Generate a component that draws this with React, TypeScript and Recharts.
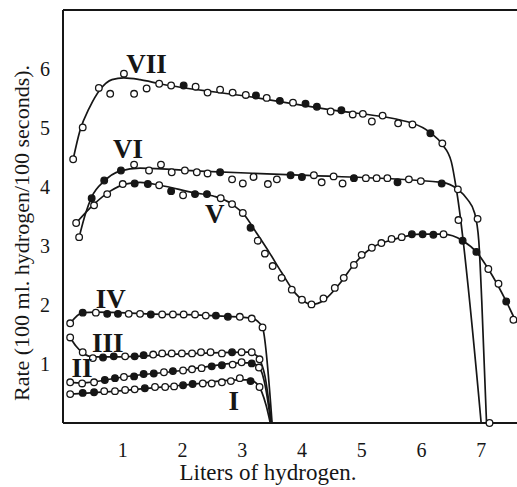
import { ComposedChart, Line, Scatter, XAxis, YAxis, ReferenceLine, ReferenceDot } from "recharts";

// [x, y] points along each hand-drawn curve
type XY = [number, number];
// [x, y, filled] measured points
type Pt = [number, number, number];

const X_TICKS = [1, 2, 3, 4, 5, 6, 7];
const Y_TICKS = [1, 2, 3, 4, 5, 6];
const X_TITLE = "Liters of hydrogen.";
const Y_TITLE = "Rate (100 ml. hydrogen/100 seconds).";

const VII_CURVE: XY[] = [
  [0.17, 4.47], [0.28, 4.94], [0.45, 5.36], [0.62, 5.65], [0.82, 5.82], [1.02, 5.85], [1.29, 5.82],
  [1.62, 5.75], [3.13, 5.53], [4.46, 5.31], [5.85, 5.08], [6.15, 4.92], [6.35, 4.72], [6.5, 4.43],
  [6.59, 3.93], [7.0, 0],
];
const VII_POINTS: Pt[] = [
  [0.17, 4.47, 0], [0.33, 5.01, 0], [0.6, 5.68, 0], [0.79, 5.58, 0], [1.02, 5.92, 0], [1.19, 5.58, 0],
  [1.4, 5.67, 0], [1.61, 5.75, 0], [1.81, 5.72, 0], [2.02, 5.72, 1], [2.22, 5.7, 0], [2.42, 5.6, 0],
  [2.63, 5.65, 0], [2.84, 5.6, 0], [3.06, 5.56, 0], [3.23, 5.55, 1], [3.41, 5.51, 0], [3.63, 5.46, 1],
  [3.85, 5.43, 0], [4.06, 5.41, 1], [4.25, 5.36, 1], [4.48, 5.28, 0], [4.66, 5.3, 1], [4.85, 5.23, 0],
  [5.02, 5.24, 0], [5.17, 5.11, 0], [5.35, 5.21, 0], [5.61, 5.08, 0], [5.85, 5.06, 0], [6.15, 4.91, 1],
  [6.35, 4.74, 0], [6.62, 3.44, 0],
];

const VI_CURVE: XY[] = [
  [0.27, 3.15], [0.38, 3.56], [0.48, 3.83], [0.69, 4.1], [0.95, 4.27], [1.29, 4.32], [2.29, 4.27],
  [3.96, 4.2], [6.34, 4.08], [6.61, 3.96], [6.77, 3.79], [6.89, 3.56], [6.96, 3.09], [7.01, 2.07],
  [7.09, 0],
];
const VI_POINTS: Pt[] = [
  [0.27, 3.15, 0], [0.48, 3.81, 1], [0.69, 4.11, 1], [0.97, 4.28, 1], [1.19, 4.38, 0], [1.44, 4.28, 0],
  [1.64, 4.38, 0], [1.82, 4.25, 0], [2.04, 4.28, 0], [2.24, 4.25, 0], [2.42, 4.23, 0], [2.63, 4.25, 1],
  [2.83, 4.13, 0], [3.01, 4.06, 0], [3.19, 4.17, 0], [3.43, 4.05, 0], [3.58, 4.13, 0], [3.81, 4.2, 1],
  [4.0, 4.17, 1], [4.2, 4.2, 0], [4.33, 4.08, 0], [4.53, 4.18, 0], [4.68, 4.06, 0], [4.87, 4.15, 1],
  [5.07, 4.15, 0], [5.25, 4.15, 0], [5.43, 4.15, 0], [5.6, 4.08, 1], [5.79, 4.13, 0], [5.99, 4.1, 0],
  [6.34, 4.06, 1], [6.61, 3.96, 0], [6.94, 3.46, 0], [7.14, 0, 0],
];

const V_CURVE: XY[] = [
  [0.22, 3.39], [0.52, 3.71], [0.79, 3.93], [1.04, 4.05], [1.29, 4.08], [1.62, 4.03], [2.21, 3.9],
  [2.54, 3.84], [2.83, 3.71], [3.04, 3.52], [3.24, 3.22], [3.46, 2.88], [3.66, 2.55], [3.88, 2.21],
  [4.16, 2.01], [4.38, 2.09], [4.63, 2.36], [4.88, 2.7], [5.17, 2.97], [5.5, 3.1], [6.02, 3.2],
  [6.37, 3.2], [6.69, 3.09], [6.92, 2.9], [7.12, 2.61], [7.42, 2.06], [7.59, 1.7],
];
const V_POINTS: Pt[] = [
  [0.22, 3.39, 0], [0.52, 3.69, 0], [0.74, 3.88, 0], [1.0, 4.05, 0], [1.2, 4.06, 1], [1.42, 4.05, 1],
  [1.61, 4.03, 0], [1.81, 3.93, 1], [2.01, 3.86, 0], [2.21, 3.88, 1], [2.41, 3.88, 1], [2.64, 3.81, 0],
  [2.83, 3.71, 0], [3.01, 3.56, 0], [3.14, 3.31, 1], [3.26, 3.09, 0], [3.38, 2.87, 0], [3.51, 2.66, 0],
  [3.66, 2.46, 0], [3.83, 2.26, 0], [4.0, 2.09, 0], [4.16, 2.01, 0], [4.36, 2.11, 0], [4.55, 2.29, 0],
  [4.7, 2.46, 0], [4.87, 2.68, 0], [5.0, 2.85, 0], [5.17, 2.97, 0], [5.33, 3.05, 0], [5.5, 3.12, 0],
  [5.67, 3.15, 0], [5.84, 3.2, 1], [6.02, 3.2, 1], [6.2, 3.19, 1], [6.37, 3.2, 0], [6.69, 3.09, 1],
  [6.92, 2.9, 1], [7.12, 2.61, 0], [7.29, 2.36, 0], [7.42, 2.06, 1], [7.54, 1.75, 0],
];

const IV_CURVE: XY[] = [
  [0.12, 1.69], [0.33, 1.87], [0.55, 1.88], [1.45, 1.85], [2.5, 1.82], [3.16, 1.78], [3.25, 1.73],
  [3.34, 1.62], [3.5, 0],
];
const IV_POINTS: Pt[] = [
  [0.12, 1.69, 0], [0.33, 1.87, 1], [0.55, 1.87, 0], [0.74, 1.85, 1], [0.92, 1.85, 1], [1.1, 1.85, 0],
  [1.29, 1.85, 0], [1.47, 1.84, 1], [1.66, 1.84, 0], [1.84, 1.84, 0], [2.02, 1.84, 0], [2.21, 1.84, 0],
  [2.39, 1.82, 0], [2.56, 1.82, 1], [2.76, 1.8, 1], [2.96, 1.8, 0], [3.16, 1.77, 0], [3.34, 1.62, 0],
];

const III_CURVE: XY[] = [
  [0.12, 1.45], [0.22, 1.3], [0.33, 1.19], [0.5, 1.12], [0.8, 1.12], [2.0, 1.17], [3.1, 1.2],
  [3.2, 1.17], [3.29, 1.08], [3.38, 0.8], [3.49, 0],
];
const III_POINTS: Pt[] = [
  [0.12, 1.45, 0], [0.33, 1.2, 0], [0.5, 1.1, 0], [0.67, 1.11, 1], [0.85, 1.13, 1], [1.04, 1.13, 0],
  [1.2, 1.13, 1], [1.35, 1.15, 1], [1.51, 1.16, 0], [1.66, 1.18, 0], [1.82, 1.18, 0], [1.99, 1.18, 0],
  [2.16, 1.18, 0], [2.31, 1.2, 0], [2.47, 1.2, 0], [2.66, 1.18, 0], [2.83, 1.2, 1], [2.99, 1.2, 0],
  [3.16, 1.2, 0], [3.29, 1.08, 0],
];

const II_CURVE: XY[] = [
  [0.12, 0.69], [0.32, 0.68], [1.0, 0.78], [2.0, 0.89], [3.0, 1.02], [3.14, 1.02], [3.25, 0.97],
  [3.33, 0.85], [3.4, 0.55], [3.48, 0],
];
const II_POINTS: Pt[] = [
  [0.12, 0.69, 0], [0.32, 0.67, 0], [0.52, 0.69, 0], [0.7, 0.73, 1], [0.87, 0.76, 1], [1.02, 0.78, 0],
  [1.19, 0.79, 1], [1.35, 0.83, 1], [1.52, 0.84, 1], [1.69, 0.86, 0], [1.84, 0.88, 1], [2.01, 0.89, 0],
  [2.16, 0.91, 0], [2.32, 0.93, 0], [2.49, 0.96, 1], [2.66, 0.98, 1], [2.84, 0.99, 0], [2.99, 1.03, 0],
  [3.16, 1.01, 1], [3.28, 0.94, 0],
];

const I_CURVE: XY[] = [
  [0.12, 0.49], [1.0, 0.55], [2.0, 0.64], [2.96, 0.73], [3.12, 0.73], [3.24, 0.67], [3.33, 0.52],
  [3.4, 0.3], [3.47, 0],
];
const I_POINTS: Pt[] = [
  [0.12, 0.49, 0], [0.33, 0.51, 1], [0.52, 0.52, 1], [0.69, 0.54, 0], [0.87, 0.54, 0], [1.04, 0.56, 0],
  [1.2, 0.57, 0], [1.37, 0.59, 1], [1.54, 0.61, 0], [1.71, 0.61, 0], [1.86, 0.62, 0], [2.01, 0.64, 1],
  [2.17, 0.66, 1], [2.34, 0.67, 0], [2.49, 0.67, 0], [2.66, 0.69, 0], [2.81, 0.71, 0], [2.96, 0.76, 0],
  [3.14, 0.71, 1], [3.29, 0.61, 0],
];

// roman numeral tags, placed in data units
const CURVE_LABELS: { text: string; x: number; y: number }[] = [
  { text: "VII", x: 1.4, y: 6.1 },
  { text: "VI", x: 1.09, y: 4.66 },
  { text: "V", x: 2.54, y: 3.56 },
  { text: "IV", x: 0.8, y: 2.12 },
  { text: "III", x: 0.75, y: 1.36 },
  { text: "II", x: 0.32, y: 0.95 },
  { text: "I", x: 2.86, y: 0.39 },
];

const SERIES = [
  { name: "VII", curve: VII_CURVE, points: VII_POINTS },
  { name: "VI", curve: VI_CURVE, points: VI_POINTS },
  { name: "V", curve: V_CURVE, points: V_POINTS },
  { name: "IV", curve: IV_CURVE, points: IV_POINTS },
  { name: "III", curve: III_CURVE, points: III_POINTS },
  { name: "II", curve: II_CURVE, points: II_POINTS },
  { name: "I", curve: I_CURVE, points: I_POINTS },
];

const INK = "#161616";
const SERIF = "'Liberation Serif', 'DejaVu Serif', serif";

function Marker(props: any) {
  const { cx, cy, payload } = props;
  return (
    <circle
      cx={cx}
      cy={cy}
      r={3.3}
      fill={payload.f ? INK : "#fff"}
      stroke={INK}
      strokeWidth={1.3}
    />
  );
}

export default function App() {
  return (
    <div style={{ position: "absolute", left: 0, top: 0, background: "#fff" }}>
      <ComposedChart width={517} height={487} margin={{ top: 10, right: 0, bottom: 0, left: 0 }}>
        <XAxis
          dataKey="x"
          type="number"
          domain={[0, 7.6]}
          ticks={X_TICKS}
          height={64}
          tickLine={false}
          tickSize={6}
          tickMargin={14}
          axisLine={{ stroke: INK, strokeWidth: 2 }}
          tick={{ fill: INK, fontSize: 20, fontFamily: SERIF }}
          label={{
            content: () => (
              <text x={268} y={480} textAnchor="middle" fill={INK} fontSize={23} fontFamily={SERIF}>
                {X_TITLE}
              </text>
            ),
          }}
        />
        <YAxis
          dataKey="y"
          type="number"
          domain={[0, 7]}
          ticks={Y_TICKS}
          width={63}
          tickLine={false}
          tickSize={4}
          tickMargin={9}
          axisLine={{ stroke: INK, strokeWidth: 2 }}
          tick={{ fill: INK, fontSize: 20, fontFamily: SERIF }}
          label={{
            content: () => (
              <text
                transform="translate(29,233) rotate(-90)"
                textAnchor="middle"
                fill={INK}
                fontSize={22}
                fontFamily={SERIF}
              >
                {Y_TITLE}
              </text>
            ),
          }}
        />
        <ReferenceLine y={7} stroke={INK} strokeWidth={2} />
        {SERIES.map((s) => (
          <Line
            key={`c-${s.name}`}
            data={s.curve.map(([x, y]) => ({ x, y }))}
            dataKey="y"
            type="monotone"
            stroke={INK}
            strokeWidth={1.7}
            dot={false}
            activeDot={false}
            isAnimationActive={false}
          />
        ))}
        {SERIES.map((s) => (
          <Scatter
            key={`p-${s.name}`}
            data={s.points.map(([x, y, f]) => ({ x, y, f }))}
            dataKey="y"
            shape={Marker}
            isAnimationActive={false}
          />
        ))}
        {CURVE_LABELS.map((l) => (
          <ReferenceDot
            key={l.text}
            x={l.x}
            y={l.y}
            r={0}
            fill="none"
            stroke="none"
            label={{
              value: l.text,
              position: "center",
              fill: INK,
              fontSize: 27,
              fontWeight: "bold",
              fontFamily: SERIF,
            }}
          />
        ))}
      </ComposedChart>
    </div>
  );
}
